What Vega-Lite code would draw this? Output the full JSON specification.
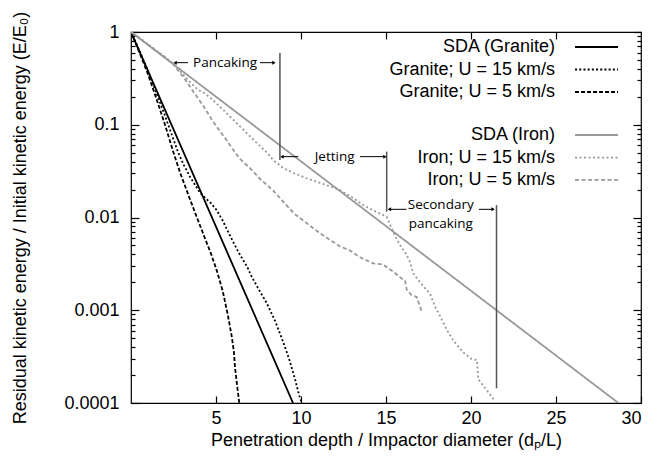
{
  "$schema": "https://vega.github.io/schema/vega-lite/v6.json",
  "width": 510,
  "height": 371,
  "autosize": {"type": "none"},
  "padding": {"left": 131, "top": 32, "right": 24, "bottom": 57},
  "background": "white",
  "config": {
    "view": {"stroke": "black", "strokeWidth": 1.2},
    "axis": {"grid": false, "domain": false, "tickColor": "black", "tickWidth": 1.2, "labelColor": "black", "titleColor": "black", "labelFont": "Liberation Sans", "titleFont": "Liberation Sans", "labelFontSize": 18, "titleFontSize": 18, "titleFontWeight": "normal"}
  },
  "datasets": {
    "curves": [
      {"s": "SDA (Granite)", "x": 0, "e": 1}, {"s": "SDA (Granite)", "x": 9.53, "e": 0.0001},
      {"s": "Granite; U = 15 km/s", "x": 0, "e": 1}, {"s": "Granite; U = 15 km/s", "x": 0.5, "e": 0.63}, {"s": "Granite; U = 15 km/s", "x": 1, "e": 0.38}, {"s": "Granite; U = 15 km/s", "x": 1.5, "e": 0.22}, {"s": "Granite; U = 15 km/s", "x": 2, "e": 0.125}, {"s": "Granite; U = 15 km/s", "x": 2.4, "e": 0.078}, {"s": "Granite; U = 15 km/s", "x": 2.78, "e": 0.05}, {"s": "Granite; U = 15 km/s", "x": 3.1, "e": 0.037}, {"s": "Granite; U = 15 km/s", "x": 3.47, "e": 0.0275}, {"s": "Granite; U = 15 km/s", "x": 3.8, "e": 0.022}, {"s": "Granite; U = 15 km/s", "x": 4.06, "e": 0.0185}, {"s": "Granite; U = 15 km/s", "x": 4.4, "e": 0.016}, {"s": "Granite; U = 15 km/s", "x": 4.7, "e": 0.0143}, {"s": "Granite; U = 15 km/s", "x": 5.04, "e": 0.012}, {"s": "Granite; U = 15 km/s", "x": 5.4, "e": 0.0092}, {"s": "Granite; U = 15 km/s", "x": 5.82, "e": 0.0064}, {"s": "Granite; U = 15 km/s", "x": 6.3, "e": 0.0043}, {"s": "Granite; U = 15 km/s", "x": 6.85, "e": 0.0029}, {"s": "Granite; U = 15 km/s", "x": 7.1, "e": 0.0023}, {"s": "Granite; U = 15 km/s", "x": 7.5, "e": 0.0017}, {"s": "Granite; U = 15 km/s", "x": 7.98, "e": 0.0012}, {"s": "Granite; U = 15 km/s", "x": 8.5, "e": 0.00075}, {"s": "Granite; U = 15 km/s", "x": 8.96, "e": 0.00045}, {"s": "Granite; U = 15 km/s", "x": 9.3, "e": 0.0003}, {"s": "Granite; U = 15 km/s", "x": 9.65, "e": 0.00018}, {"s": "Granite; U = 15 km/s", "x": 9.9, "e": 0.00012}, {"s": "Granite; U = 15 km/s", "x": 10.04, "e": 0.0001},
      {"s": "Granite; U = 5 km/s", "x": 0, "e": 1}, {"s": "Granite; U = 5 km/s", "x": 0.5, "e": 0.6}, {"s": "Granite; U = 5 km/s", "x": 1, "e": 0.35}, {"s": "Granite; U = 5 km/s", "x": 1.5, "e": 0.19}, {"s": "Granite; U = 5 km/s", "x": 2, "e": 0.1}, {"s": "Granite; U = 5 km/s", "x": 2.47, "e": 0.052}, {"s": "Granite; U = 5 km/s", "x": 2.9, "e": 0.03}, {"s": "Granite; U = 5 km/s", "x": 3.4, "e": 0.017}, {"s": "Granite; U = 5 km/s", "x": 3.86, "e": 0.0102}, {"s": "Granite; U = 5 km/s", "x": 4.3, "e": 0.0063}, {"s": "Granite; U = 5 km/s", "x": 4.7, "e": 0.0041}, {"s": "Granite; U = 5 km/s", "x": 5.04, "e": 0.0027}, {"s": "Granite; U = 5 km/s", "x": 5.4, "e": 0.0016}, {"s": "Granite; U = 5 km/s", "x": 5.7, "e": 0.00088}, {"s": "Granite; U = 5 km/s", "x": 5.92, "e": 0.00053}, {"s": "Granite; U = 5 km/s", "x": 6.05, "e": 0.00036}, {"s": "Granite; U = 5 km/s", "x": 6.12, "e": 0.00024}, {"s": "Granite; U = 5 km/s", "x": 6.25, "e": 0.00015}, {"s": "Granite; U = 5 km/s", "x": 6.37, "e": 0.0001},
      {"s": "SDA (Iron)", "x": 0, "e": 1}, {"s": "SDA (Iron)", "x": 28.67, "e": 0.0001},
      {"s": "Iron; U = 15 km/s", "x": 0, "e": 1}, {"s": "Iron; U = 15 km/s", "x": 0.5, "e": 0.86}, {"s": "Iron; U = 15 km/s", "x": 1, "e": 0.74}, {"s": "Iron; U = 15 km/s", "x": 1.5, "e": 0.63}, {"s": "Iron; U = 15 km/s", "x": 2, "e": 0.54}, {"s": "Iron; U = 15 km/s", "x": 2.5, "e": 0.455}, {"s": "Iron; U = 15 km/s", "x": 3, "e": 0.36}, {"s": "Iron; U = 15 km/s", "x": 3.5, "e": 0.285}, {"s": "Iron; U = 15 km/s", "x": 3.96, "e": 0.237}, {"s": "Iron; U = 15 km/s", "x": 4.3, "e": 0.22}, {"s": "Iron; U = 15 km/s", "x": 4.6, "e": 0.2}, {"s": "Iron; U = 15 km/s", "x": 5, "e": 0.172}, {"s": "Iron; U = 15 km/s", "x": 5.5, "e": 0.14}, {"s": "Iron; U = 15 km/s", "x": 6, "e": 0.114}, {"s": "Iron; U = 15 km/s", "x": 6.41, "e": 0.096}, {"s": "Iron; U = 15 km/s", "x": 7, "e": 0.075}, {"s": "Iron; U = 15 km/s", "x": 7.5, "e": 0.061}, {"s": "Iron; U = 15 km/s", "x": 8, "e": 0.05}, {"s": "Iron; U = 15 km/s", "x": 8.4, "e": 0.041}, {"s": "Iron; U = 15 km/s", "x": 8.96, "e": 0.034}, {"s": "Iron; U = 15 km/s", "x": 9.6, "e": 0.03}, {"s": "Iron; U = 15 km/s", "x": 10.33, "e": 0.0265}, {"s": "Iron; U = 15 km/s", "x": 11.3, "e": 0.023}, {"s": "Iron; U = 15 km/s", "x": 12.29, "e": 0.0198}, {"s": "Iron; U = 15 km/s", "x": 13, "e": 0.0165}, {"s": "Iron; U = 15 km/s", "x": 13.66, "e": 0.0136}, {"s": "Iron; U = 15 km/s", "x": 14.3, "e": 0.0118}, {"s": "Iron; U = 15 km/s", "x": 15.04, "e": 0.0102}, {"s": "Iron; U = 15 km/s", "x": 15.3, "e": 0.0079}, {"s": "Iron; U = 15 km/s", "x": 15.63, "e": 0.0058}, {"s": "Iron; U = 15 km/s", "x": 15.9, "e": 0.0048}, {"s": "Iron; U = 15 km/s", "x": 16.2, "e": 0.004}, {"s": "Iron; U = 15 km/s", "x": 16.41, "e": 0.0033}, {"s": "Iron; U = 15 km/s", "x": 16.6, "e": 0.0025}, {"s": "Iron; U = 15 km/s", "x": 17, "e": 0.002}, {"s": "Iron; U = 15 km/s", "x": 17.59, "e": 0.0015}, {"s": "Iron; U = 15 km/s", "x": 17.88, "e": 0.0011}, {"s": "Iron; U = 15 km/s", "x": 18.2, "e": 0.00085}, {"s": "Iron; U = 15 km/s", "x": 18.57, "e": 0.00062}, {"s": "Iron; U = 15 km/s", "x": 19, "e": 0.00046}, {"s": "Iron; U = 15 km/s", "x": 19.55, "e": 0.00035}, {"s": "Iron; U = 15 km/s", "x": 20, "e": 0.0003}, {"s": "Iron; U = 15 km/s", "x": 20.35, "e": 0.00029}, {"s": "Iron; U = 15 km/s", "x": 20.43, "e": 0.00018}, {"s": "Iron; U = 15 km/s", "x": 20.92, "e": 0.000138}, {"s": "Iron; U = 15 km/s", "x": 21.41, "e": 0.000105},
      {"s": "Iron; U = 5 km/s", "x": 0, "e": 1}, {"s": "Iron; U = 5 km/s", "x": 0.5, "e": 0.86}, {"s": "Iron; U = 5 km/s", "x": 1, "e": 0.73}, {"s": "Iron; U = 5 km/s", "x": 1.5, "e": 0.62}, {"s": "Iron; U = 5 km/s", "x": 2, "e": 0.53}, {"s": "Iron; U = 5 km/s", "x": 2.49, "e": 0.45}, {"s": "Iron; U = 5 km/s", "x": 2.9, "e": 0.36}, {"s": "Iron; U = 5 km/s", "x": 3.28, "e": 0.29}, {"s": "Iron; U = 5 km/s", "x": 3.8, "e": 0.21}, {"s": "Iron; U = 5 km/s", "x": 4.3, "e": 0.155}, {"s": "Iron; U = 5 km/s", "x": 4.8, "e": 0.11}, {"s": "Iron; U = 5 km/s", "x": 5.3, "e": 0.082}, {"s": "Iron; U = 5 km/s", "x": 5.63, "e": 0.068}, {"s": "Iron; U = 5 km/s", "x": 6, "e": 0.054}, {"s": "Iron; U = 5 km/s", "x": 6.41, "e": 0.043}, {"s": "Iron; U = 5 km/s", "x": 7, "e": 0.034}, {"s": "Iron; U = 5 km/s", "x": 7.6, "e": 0.026}, {"s": "Iron; U = 5 km/s", "x": 8.37, "e": 0.0195}, {"s": "Iron; U = 5 km/s", "x": 9, "e": 0.0145}, {"s": "Iron; U = 5 km/s", "x": 9.6, "e": 0.011}, {"s": "Iron; U = 5 km/s", "x": 10.33, "e": 0.0087}, {"s": "Iron; U = 5 km/s", "x": 10.92, "e": 0.0072}, {"s": "Iron; U = 5 km/s", "x": 11.6, "e": 0.0059}, {"s": "Iron; U = 5 km/s", "x": 12.29, "e": 0.0049}, {"s": "Iron; U = 5 km/s", "x": 12.88, "e": 0.0044}, {"s": "Iron; U = 5 km/s", "x": 13.5, "e": 0.0037}, {"s": "Iron; U = 5 km/s", "x": 14.25, "e": 0.0032}, {"s": "Iron; U = 5 km/s", "x": 14.84, "e": 0.0031}, {"s": "Iron; U = 5 km/s", "x": 15.43, "e": 0.0026}, {"s": "Iron; U = 5 km/s", "x": 15.92, "e": 0.0022}, {"s": "Iron; U = 5 km/s", "x": 16.12, "e": 0.0021}, {"s": "Iron; U = 5 km/s", "x": 16.22, "e": 0.00167}, {"s": "Iron; U = 5 km/s", "x": 16.5, "e": 0.00146}, {"s": "Iron; U = 5 km/s", "x": 16.8, "e": 0.00139}, {"s": "Iron; U = 5 km/s", "x": 17, "e": 0.0011}, {"s": "Iron; U = 5 km/s", "x": 17.1, "e": 0.00097}
    ],
    "vlines": [
      {"x": 8.76, "e1": 0.594, "e2": 0.0417},
      {"x": 15.04, "e1": 0.0513, "e2": 0.01155},
      {"x": 21.5, "e1": 0.0136, "e2": 0.000144}
    ],
    "arrows": [
      {"x1": 2.59, "x2": 3.35, "e": 0.467, "hx": 2.59, "shape": "triangle-left"},
      {"x1": 7.59, "x2": 8.41, "e": 0.467, "hx": 8.41, "shape": "triangle-right"},
      {"x1": 8.88, "x2": 9.84, "e": 0.0453, "hx": 8.88, "shape": "triangle-left"},
      {"x1": 13.47, "x2": 14.94, "e": 0.0453, "hx": 14.94, "shape": "triangle-right"},
      {"x1": 15.2, "x2": 16.2, "e": 0.01225, "hx": 15.2, "shape": "triangle-left"},
      {"x1": 20.47, "x2": 21.3, "e": 0.01225, "hx": 21.3, "shape": "triangle-right"}
    ],
    "notes": [
      {"t": "Pancaking", "x": 5.53, "e": 0.467},
      {"t": "Jetting", "x": 11.98, "e": 0.0453},
      {"t": "Secondary", "x": 18.22, "e": 0.0136},
      {"t": "pancaking", "x": 18.22, "e": 0.0086}
    ],
    "legend": [
      {"s": "SDA (Granite)", "e": 0.689, "x": 24.94, "x1": 26.12, "x2": 28.65},
      {"s": "Granite; U = 15 km/s", "e": 0.394, "x": 24.94, "x1": 26.12, "x2": 28.65},
      {"s": "Granite; U = 5 km/s", "e": 0.2255, "x": 24.94, "x1": 26.12, "x2": 28.65},
      {"s": "SDA (Iron)", "e": 0.0775, "x": 24.94, "x1": 26.12, "x2": 28.65},
      {"s": "Iron; U = 15 km/s", "e": 0.0443, "x": 24.94, "x1": 26.12, "x2": 28.65},
      {"s": "Iron; U = 5 km/s", "e": 0.0254, "x": 24.94, "x1": 26.12, "x2": 28.65}
    ]
  },
  "layer": [
    {
      "data": {"name": "curves"},
      "mark": {"type": "line", "strokeWidth": 1.8, "clip": true},
      "encoding": {
        "x": {"field": "x", "type": "quantitative", "scale": {"domain": [0, 30], "nice": false, "zero": false},
          "axis": {"orient": "bottom", "values": [5, 10, 15, 20, 25, 30], "tickSize": -7, "labelPadding": 13, "title": "Penetration depth / Impactor diameter (dₚ/L)", "titlePadding": 4}},
        "y": {"field": "e", "type": "quantitative", "scale": {"type": "log", "domain": [0.0001, 1], "nice": false},
          "axis": {"orient": "left", "values": [0.0001, 0.0002, 0.0003, 0.0004, 0.0005, 0.0006, 0.0007, 0.0008, 0.0009, 0.001, 0.002, 0.003, 0.004, 0.005, 0.006, 0.007, 0.008, 0.009, 0.01, 0.02, 0.03, 0.04, 0.05, 0.06, 0.07, 0.08, 0.09, 0.1, 0.2, 0.3, 0.4, 0.5, 0.6, 0.7, 0.8, 0.9, 1],
            "labelExpr": "abs(log(datum.value)/LN10 - round(log(datum.value)/LN10)) < 0.001 ? format(datum.value, '~g') : ''",
            "tickSize": {"condition": {"test": "abs(log(datum.value)/LN10 - round(log(datum.value)/LN10)) < 0.001", "value": -8}, "value": -4},
            "labelPadding": 20, "title": "Residual kinetic energy / Initial kinetic energy (E/E₀)", "titlePadding": 34}},
        "color": {"field": "s", "type": "nominal", "legend": null,
          "scale": {"domain": ["SDA (Granite)", "Granite; U = 15 km/s", "Granite; U = 5 km/s", "SDA (Iron)", "Iron; U = 15 km/s", "Iron; U = 5 km/s"], "range": ["#000000", "#000000", "#000000", "#999999", "#999999", "#999999"]}},
        "strokeDash": {"field": "s", "type": "nominal", "legend": null,
          "scale": {"domain": ["SDA (Granite)", "Granite; U = 15 km/s", "Granite; U = 5 km/s", "SDA (Iron)", "Iron; U = 15 km/s", "Iron; U = 5 km/s"], "range": [[1, 0], [2, 2.2], [4, 2], [1, 0], [2, 2.5], [4, 2.5]]}}
      }
    },
    {
      "data": {"name": "vlines"},
      "mark": {"type": "rule", "color": "#555555", "strokeWidth": 1.5},
      "encoding": {
        "x": {"field": "x", "type": "quantitative",
          "axis": {"orient": "top", "values": [5, 10, 15, 20, 25], "labels": false, "tickSize": -7, "title": null}},
        "y": {"field": "e1", "type": "quantitative",
          "axis": {"orient": "right", "values": [0.0001, 0.0002, 0.0003, 0.0004, 0.0005, 0.0006, 0.0007, 0.0008, 0.0009, 0.001, 0.002, 0.003, 0.004, 0.005, 0.006, 0.007, 0.008, 0.009, 0.01, 0.02, 0.03, 0.04, 0.05, 0.06, 0.07, 0.08, 0.09, 0.1, 0.2, 0.3, 0.4, 0.5, 0.6, 0.7, 0.8, 0.9, 1], "labels": false,
            "tickSize": {"condition": {"test": "abs(log(datum.value)/LN10 - round(log(datum.value)/LN10)) < 0.001", "value": -8}, "value": -4}, "title": null}},
        "y2": {"field": "e2"}
      }
    },
    {
      "data": {"name": "arrows"},
      "mark": {"type": "rule", "color": "black", "strokeWidth": 1},
      "encoding": {
        "x": {"field": "x1", "type": "quantitative", "axis": null},
        "x2": {"field": "x2"},
        "y": {"field": "e", "type": "quantitative", "axis": null}
      }
    },
    {
      "data": {"name": "arrows"},
      "mark": {"type": "point", "filled": true, "color": "black", "size": 16, "opacity": 1},
      "encoding": {
        "x": {"field": "hx", "type": "quantitative", "axis": null},
        "y": {"field": "e", "type": "quantitative", "axis": null},
        "shape": {"field": "shape", "type": "nominal", "scale": null, "legend": null}
      }
    },
    {
      "data": {"name": "notes"},
      "mark": {"type": "text", "font": "Open Sans", "fontSize": 13.5, "align": "center", "baseline": "middle", "color": "black"},
      "encoding": {
        "x": {"field": "x", "type": "quantitative", "axis": null},
        "y": {"field": "e", "type": "quantitative", "axis": null},
        "text": {"field": "t"}
      }
    },
    {
      "data": {"name": "legend"},
      "mark": {"type": "text", "font": "Liberation Sans", "fontSize": 18, "align": "right", "baseline": "middle", "color": "black"},
      "encoding": {
        "x": {"field": "x", "type": "quantitative", "axis": null},
        "y": {"field": "e", "type": "quantitative", "axis": null},
        "text": {"field": "s"}
      }
    },
    {
      "data": {"name": "legend"},
      "mark": {"type": "rule", "strokeWidth": 1.8},
      "encoding": {
        "x": {"field": "x1", "type": "quantitative", "axis": null},
        "x2": {"field": "x2"},
        "y": {"field": "e", "type": "quantitative", "axis": null},
        "color": {"field": "s", "type": "nominal", "legend": null},
        "strokeDash": {"field": "s", "type": "nominal", "legend": null}
      }
    }
  ],
  "resolve": {"axis": {"x": "independent", "y": "independent"}}
}
